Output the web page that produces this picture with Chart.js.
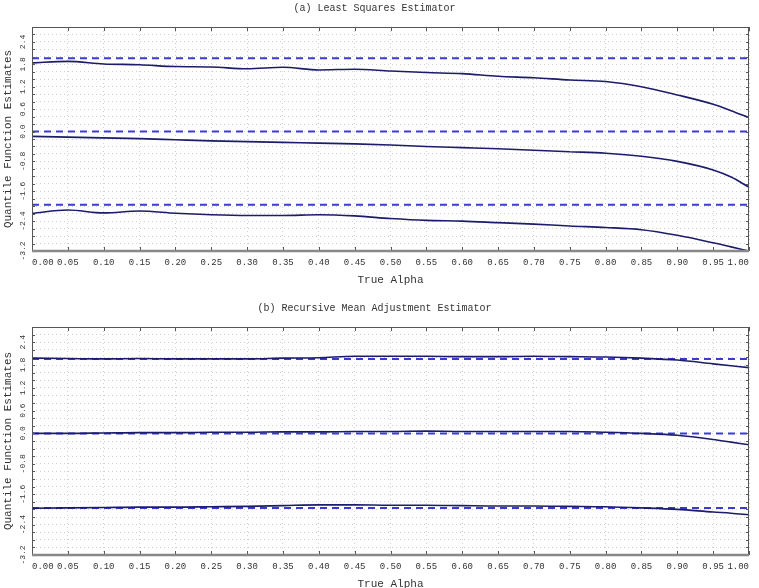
<!DOCTYPE html>
<html>
<head>
<meta charset="utf-8">
<script src="https://cdn.jsdelivr.net/npm/chart.js@4"></script>
<style>
  html, body { margin: 0; padding: 0; background: #fff; overflow: hidden; }
  .panel { position: relative; width: 759px; }
</style>
</head>
<body>
<div class="panel" style="height:290px"><canvas id="chart-a"></canvas></div>
<div class="panel" style="height:301px"><canvas id="chart-b"></canvas></div>
<script>
const alpha = [0, 0.05, 0.10, 0.15, 0.20, 0.25, 0.30, 0.35, 0.40, 0.45, 0.50,
  0.55, 0.60, 0.65, 0.70, 0.75, 0.80, 0.85, 0.90, 0.95, 0.975, 1.00];

// (a) least squares estimator
const lsUpper = [1.84, 1.88, 1.81, 1.79, 1.74, 1.73, 1.68, 1.72, 1.65, 1.67, 1.62,
  1.58, 1.55, 1.48, 1.44, 1.38, 1.34, 1.20, 0.98, 0.73, 0.56, 0.37];
const lsMiddle = [-0.13, -0.15, -0.17, -0.19, -0.22, -0.25, -0.27, -0.29, -0.31, -0.33, -0.36,
  -0.40, -0.43, -0.46, -0.50, -0.54, -0.58, -0.66, -0.80, -1.03, -1.22, -1.49];
const lsLower = [-2.19, -2.10, -2.18, -2.13, -2.19, -2.23, -2.25, -2.25, -2.23, -2.26, -2.33,
  -2.38, -2.40, -2.44, -2.48, -2.53, -2.57, -2.63, -2.78, -2.98, -3.09, -3.20];

// (b) recursive mean adjustment estimator
const rmaUpper = [1.98, 1.97, 1.96, 1.97, 1.96, 1.96, 1.96, 1.98, 1.99, 2.03, 2.03,
  2.03, 2.02, 2.02, 2.03, 2.02, 2.01, 1.98, 1.93, 1.83, 1.78, 1.73];
const rmaMiddle = [0.00, 0.00, 0.01, 0.02, 0.02, 0.03, 0.03, 0.04, 0.04, 0.05, 0.05,
  0.06, 0.05, 0.05, 0.05, 0.05, 0.03, 0.00, -0.05, -0.16, -0.23, -0.30];
const rmaLower = [-1.97, -1.96, -1.95, -1.94, -1.94, -1.93, -1.92, -1.90, -1.88, -1.88, -1.89,
  -1.89, -1.90, -1.91, -1.91, -1.92, -1.93, -1.96, -2.00, -2.07, -2.10, -2.14];

// true quantiles (dashed)
const trueQuantiles = [1.96, 0, -1.96];

// axis ticks
const xTicks = [0, 0.05, 0.10, 0.15, 0.20, 0.25, 0.30, 0.35, 0.40, 0.45, 0.50,
  0.55, 0.60, 0.65, 0.70, 0.75, 0.80, 0.85, 0.90, 0.95, 1.00];
const yTickLabels = [2.4, 1.8, 1.2, 0.6, 0.0, -0.8, -1.6, -2.4, -3.2];

Chart.defaults.font.family = "'Liberation Mono', monospace";
Chart.defaults.color = '#333';

// box round the plot with small inward ticks
const framePlugin = {
  id: 'frame',
  afterDatasetsDraw(chart) {
    const { ctx, chartArea: a, scales: { x, y } } = chart;
    ctx.save();
    ctx.strokeStyle = '#555';
    ctx.lineWidth = 1;
    ctx.beginPath();
    x.ticks.forEach((t) => {
      const px = Math.round(x.getPixelForValue(t.value)) + 0.5;
      ctx.moveTo(px, a.bottom); ctx.lineTo(px, a.bottom - 4);
      ctx.moveTo(px, a.top); ctx.lineTo(px, a.top + 4);
    });
    y.ticks.forEach((t) => {
      const py = Math.round(y.getPixelForValue(t.value)) + 0.5;
      ctx.moveTo(a.left, py); ctx.lineTo(a.left + 3, py);
      ctx.moveTo(a.right, py); ctx.lineTo(a.right - 3, py);
    });
    ctx.stroke();
    ctx.strokeRect(a.left + 0.5, a.top + 0.5, a.width - 1, a.height - 1);
    ctx.strokeStyle = '#888';
    ctx.lineWidth = 2.5;
    ctx.beginPath();
    ctx.moveTo(a.left, a.bottom);
    ctx.lineTo(a.right, a.bottom);
    ctx.stroke();
    ctx.restore();
  },
};

function toPoints(values) {
  return values.map((v, i) => ({ x: alpha[i], y: v }));
}

function makeChart(id, title, curves, topPad, bottomPad) {
  const datasets = curves.map((c) => ({
    data: toPoints(c),
    borderColor: '#1c1c6b',
    borderWidth: 1.6,
    pointRadius: 0,
    cubicInterpolationMode: 'monotone',
  }));
  trueQuantiles.forEach((q) => {
    datasets.push({
      data: [{ x: 0, y: q }, { x: 1, y: q }],
      borderColor: '#3a3ad8',
      borderWidth: 2,
      borderDash: [7, 5],
      pointRadius: 0,
    });
  });

  return new Chart(document.getElementById(id), {
    type: 'line',
    data: { datasets: datasets },
    options: {
      responsive: true,
      maintainAspectRatio: false,
      animation: false,
      layout: { padding: { top: topPad, right: 10, bottom: bottomPad, left: 0 } },
      plugins: {
        legend: { display: false },
        tooltip: { enabled: false },
        title: {
          display: true,
          text: title,
          color: '#333',
          font: { size: 10, weight: 'normal' },
          padding: { top: 2, bottom: 13 },
        },
      },
      scales: {
        x: {
          type: 'linear',
          min: 0,
          max: 1,
          afterBuildTicks: (scale) => {
            scale.ticks = xTicks.map((v) => ({ value: v }));
          },
          ticks: {
            autoSkip: false,
            maxRotation: 0,
            align: 'inner',
            padding: 6,
            font: { size: 9 },
            callback: (v) => Number(v).toFixed(2),
          },
          grid: { color: '#d0d0d0', drawTicks: false, lineWidth: 1 },
          border: { display: false, dash: [1, 3] },
          title: {
            display: true,
            text: 'True Alpha',
            font: { size: 11 },
            padding: { top: 0, bottom: 0 },
          },
        },
        y: {
          min: -3.2,
          max: 2.8,
          afterFit: (scale) => { scale.width = 32; },
          ticks: {
            stepSize: 0.2,
            autoSkip: false,
            minRotation: 90,
            maxRotation: 90,
            crossAlign: 'center',
            padding: 0,
            font: { size: 8 },
            callback: (v) => {
              const hit = yTickLabels.find((t) => Math.abs(t - v) < 1e-6);
              return hit === undefined ? '' : hit.toFixed(1);
            },
          },
          grid: { color: '#d0d0d0', drawTicks: false, lineWidth: 1 },
          border: { display: false, dash: [1, 3] },
          title: {
            display: true,
            text: 'Quantile Function Estimates',
            font: { size: 11 },
            padding: { top: 1, bottom: 0 },
          },
        },
      },
    },
    plugins: [framePlugin],
  });
}

makeChart('chart-a', '(a) Least Squares Estimator', [lsUpper, lsMiddle, lsLower], 0, 3);
makeChart('chart-b', '(b) Recursive Mean Adjustment Estimator', [rmaUpper, rmaMiddle, rmaLower], 10, 0);
</script>
</body>
</html>
